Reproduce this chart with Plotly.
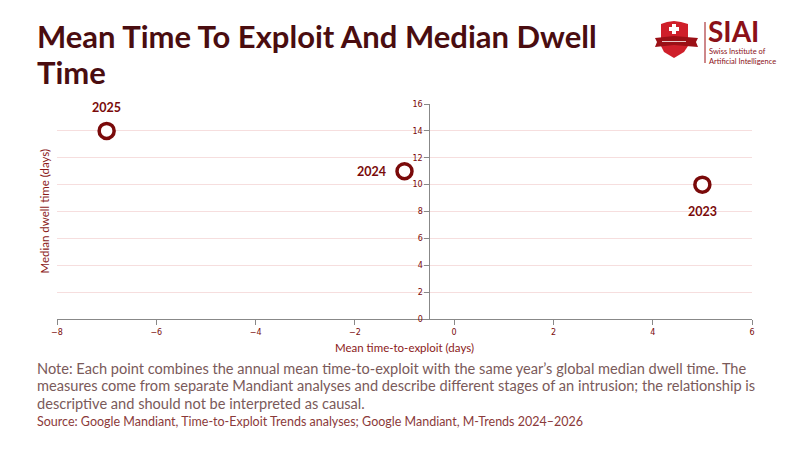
import plotly.graph_objects as go

# =======================
# Dati
# =======================
years = ["2023", "2024", "2025"]
mean_tte = [5, -1, -7]          # mean time-to-exploit (days)
median_dwell = [10, 11, 14]     # median dwell time (days)
label_shift = [(0, -27), (-33, 0), (0, 23)]   # spostamento etichette (px)

x_ticks = [-8, -6, -4, -2, 0, 2, 4, 6]
y_ticks = [0, 2, 4, 6, 8, 10, 12, 14, 16]

title_line1 = "Mean Time To Exploit And Median Dwell"
title_line2 = "Time"
note_lines = [
    "Note: Each point combines the annual mean time-to-exploit with the same year’s global median dwell time. The",
    "measures come from separate Mandiant analyses and describe different stages of an intrusion; the relationship is",
    "descriptive and should not be interpreted as causal.",
]
source_text = "Source: Google Mandiant, Time-to-Exploit Trends analyses; Google Mandiant, M-Trends 2024–2026"

W, H = 800, 450
OFF = 8  # la pagina aggiunge 8px di margine
L, R, T, B = 57 - OFF, 800 - (752 - OFF), 104 - OFF, 450 - (319 - OFF)

MAROON = "#7a0a0a"
DARK = "#4a0d10"
FONT = "Lato"
TICKFONT = "DejaVu Sans"


def px(x):
    # coordinate pixel della pagina -> paper
    return (x - OFF - L) / (W - L - R)


def py(y):
    return (H - B - (y - OFF)) / (H - T - B)


fig = go.Figure()

fig.add_trace(go.Scatter(
    x=mean_tte,
    y=median_dwell,
    mode="markers",
    marker=dict(size=15, color="white", line=dict(color=MAROON, width=3.5)),
    showlegend=False,
    cliponaxis=False,
))

# --- logo (scudo + testo) ---
def poly(points):
    return "M " + " L ".join(f"{px(a):.5f},{py(b):.5f}" for a, b in points) + " Z"

shapes = [
    dict(type="path", xref="paper", yref="paper",
         path=poly([(661, 24), (667, 22), (674, 21), (681, 22), (688, 24),
                    (688, 46), (684, 52), (674, 58), (664, 52), (661, 46)]),
         fillcolor="#cf1f2a", line=dict(width=0)),
    dict(type="path", xref="paper", yref="paper",
         path=poly([(655, 38), (674, 36), (698, 38), (696, 42), (698, 47),
                    (674, 45), (655, 47), (657, 42)]),
         fillcolor="#9b1016", line=dict(width=0)),
    dict(type="line", xref="paper", yref="paper",
         x0=px(662), x1=px(686), y0=py(41.5), y1=py(41.5),
         line=dict(color="#e8c8c8", width=1)),
    dict(type="rect", xref="paper", yref="paper",
         x0=px(672), x1=px(676), y0=py(24), y1=py(34),
         fillcolor="white", line=dict(width=0)),
    dict(type="rect", xref="paper", yref="paper",
         x0=px(669), x1=px(679), y0=py(27), y1=py(31),
         fillcolor="white", line=dict(width=0)),
    dict(type="line", xref="paper", yref="paper",
         x0=px(705), x1=px(705), y0=py(22), y1=py(63),
         line=dict(color="#9b1016", width=1)),
]

annotations = [
    dict(text=title_line1, x=px(35), y=py(15), xref="paper", yref="paper",
         xanchor="left", yanchor="top", align="left", showarrow=False,
         font=dict(family=FONT, size=31, color=DARK, weight="bold")),
    dict(text=title_line2, x=px(35), y=py(51), xref="paper", yref="paper",
         xanchor="left", yanchor="top", align="left", showarrow=False,
         font=dict(family=FONT, size=31, color=DARK, weight="bold")),
    dict(text="SIAI", x=px(706), y=py(30.5), xref="paper", yref="paper",
         xanchor="left", yanchor="middle", showarrow=False,
         font=dict(family=FONT, size=28, color="#8b1018", weight="bold")),
    dict(text="Swiss Institute of<br>Artificial Intelligence", x=px(707), y=py(56.5),
         xref="paper", yref="paper", xanchor="left", yanchor="middle", align="left",
         showarrow=False, font=dict(family=FONT, size=7.5, color="#8b1018")),
    dict(text=source_text, x=px(35), y=py(421), xref="paper", yref="paper",
         xanchor="left", yanchor="middle", align="left", showarrow=False,
         font=dict(family=FONT, size=12.5, color="#8b3a3a")),
    dict(text="Median dwell time (days)", x=px(44), y=0.5, xref="paper", yref="paper",
         xanchor="center", yanchor="middle", textangle=-90, showarrow=False,
         font=dict(family=FONT, size=11.5, color="#8b1a1a")),
]

# nota su tre righe, interlinea come nel riferimento
for i, line in enumerate(note_lines):
    annotations.append(dict(
        text=line, x=px(35), y=py(368 + 17.5 * i), xref="paper", yref="paper",
        xanchor="left", yanchor="middle", align="left", showarrow=False,
        font=dict(family=FONT, size=14.6, color="#7a5a5a")))

# etichette degli anni, legate ai punti
for yr, xv, yv, (dx, dy) in zip(years, mean_tte, median_dwell, label_shift):
    annotations.append(dict(
        x=xv, y=yv, xref="x", yref="y", text=yr, showarrow=False,
        xshift=dx, yshift=dy,
        font=dict(family=FONT, size=12.5, color=MAROON, weight="bold")))

fig.update_layout(
    width=W, height=H,
    margin=dict(l=L, r=R, t=T, b=B),
    paper_bgcolor="white",
    plot_bgcolor="white",
    font=dict(family=FONT, color=MAROON),
    shapes=shapes,
    annotations=annotations,
    xaxis=dict(
        range=[-8, 6], tickvals=x_ticks, showgrid=False, zeroline=False,
        showline=True, linecolor="#888888", linewidth=1,
        ticks="outside", ticklen=5, tickcolor="#888888",
        tickfont=dict(family=TICKFONT, size=8, color=MAROON),
        title=dict(text="Mean time-to-exploit (days)", standoff=8,
                   font=dict(family=FONT, size=11.5, color="#8b1a1a")),
    ),
    yaxis=dict(
        range=[0, 16], tickvals=y_ticks, showgrid=True, gridcolor="#f6dede",
        zeroline=False, showline=True, linecolor="#888888", linewidth=1,
        ticks="outside", ticklen=5, tickcolor="#888888",
        tickfont=dict(family=TICKFONT, size=8, color=MAROON),
        anchor="free", position=7.5 / 14,
    ),
)

fig.write_html("out.html")
